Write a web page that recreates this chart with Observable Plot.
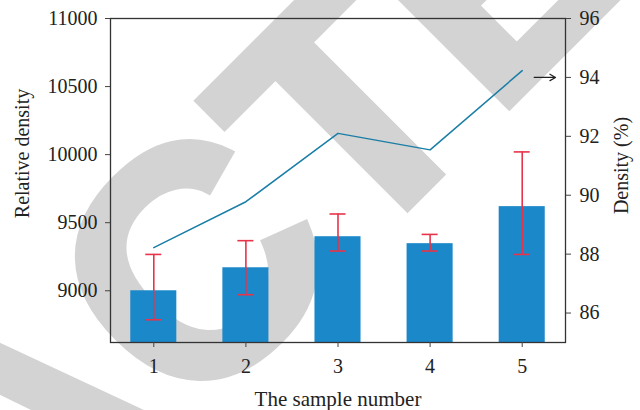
<!DOCTYPE html>
<html><head><meta charset="utf-8">
<script src="https://cdn.jsdelivr.net/npm/d3@7"></script>
<script src="https://cdn.jsdelivr.net/npm/@observablehq/plot@0.6"></script>
<style>body{margin:0;background:#fff}</style>
</head><body><div id="chart"></div>
<script>
const samples = [1, 2, 3, 4, 5];
const relDensity = [9000, 9169, 9397, 9346, 9618];
const errLow = [8787, 8971, 9292, 9292, 9267];
const errHigh = [9267, 9368, 9564, 9414, 10020];
const densityPct = [88.22, 89.78, 92.1, 91.54, 94.23];
const leftTicks = [9000, 9500, 10000, 10500, 11000];
const rightTicks = [86, 88, 90, 92, 94, 96];
const leftDomain = [8620, 11000];
const rightDomain = [85, 96];
const xDomain = [0.53, 5.47];
const arrowTarget = 94;
const watermark = "RETRACTED";

const toLeft = d => leftDomain[0] + (d - rightDomain[0]) / (rightDomain[1] - rightDomain[0]) * (leftDomain[1] - leftDomain[0]);
const fromLeft = v => rightDomain[0] + (v - leftDomain[0]) / (leftDomain[1] - leftDomain[0]) * (rightDomain[1] - rightDomain[0]);

const rows = samples.map((s, i) => ({x: s, v: relDensity[i], lo: errLow[i], hi: errHigh[i], dens: densityPct[i]}));

const serif = "Liberation Serif, Times New Roman, serif";

const chart = Plot.plot({
  width: 640, height: 410,
  marginLeft: 110, marginRight: 75, marginTop: 18, marginBottom: 68,
  x: {domain: xDomain},
  y: {domain: leftDomain},
  style: {fontFamily: serif, fontSize: "20px", background: "#fff", overflow: "hidden", color: "#222"},
  marks: [
    Plot.text([watermark], {frameAnchor: "top-left", dx: -711, dy: 1197, rotate: -45, fontSize: 324, fontWeight: "bold", fontFamily: "Liberation Sans, Arial, sans-serif", fill: "#d3d3d3", stroke: "#d3d3d3", strokeWidth: 8, strokeLinejoin: "miter", textAnchor: "start", lineAnchor: "bottom"}),
    Plot.rectY(rows, {x1: d => d.x - 0.25, x2: d => d.x + 0.25, y1: leftDomain[0], y2: "v", fill: "#1b88c9"}),
    Plot.ruleX(rows, {x: "x", y1: "lo", y2: "hi", stroke: "#e8334a", strokeWidth: 1.6}),
    Plot.ruleY(rows, {x1: "x", x2: "x", y: "lo", insetLeft: -8, insetRight: -8, stroke: "#e8334a", strokeWidth: 1.6}),
    Plot.ruleY(rows, {x1: "x", x2: "x", y: "hi", insetLeft: -8, insetRight: -8, stroke: "#e8334a", strokeWidth: 1.6}),
    Plot.line(rows, {x: "x", y: d => toLeft(d.dens), stroke: "#1a7ea6", strokeWidth: 1.5}),
    Plot.arrow([arrowTarget], {x1: samples[samples.length - 1], x2: xDomain[1], y1: d => toLeft(d), y2: d => toLeft(d), insetStart: 12, insetEnd: 10, headLength: 8, stroke: "#222", strokeWidth: 1.2}),
    Plot.frame({stroke: "#333", strokeWidth: 1.3}),
    Plot.axisY({ticks: leftTicks, tickFormat: "d", tickSize: 5, tickPadding: 8, fontSize: 20, stroke: "#444", label: null}),
    Plot.axisY({anchor: "right", ticks: rightTicks.map(toLeft), tickFormat: v => Math.round(fromLeft(v)), tickSize: 5, tickPadding: 9, fontSize: 20, stroke: "#444", label: null}),
    Plot.axisX({ticks: samples, tickFormat: "d", tickSize: 5, tickPadding: 11, fontSize: 20, stroke: "#444", label: null}),
    Plot.text(["Relative density"], {frameAnchor: "left", dx: -82, dy: -27, rotate: -90, textAnchor: "middle", lineAnchor: "bottom", fontSize: 20, fill: "#222"}),
    Plot.text(["Density (%)"], {frameAnchor: "right", dx: 62, dy: -15, rotate: -90, textAnchor: "middle", lineAnchor: "bottom", fontSize: 20, fill: "#222"}),
    Plot.text(["The sample number"], {frameAnchor: "bottom", dy: 63, textAnchor: "middle", lineAnchor: "bottom", fontSize: 21, fill: "#222"})
  ]
});
document.getElementById("chart").append(chart);
</script>
</body></html>
